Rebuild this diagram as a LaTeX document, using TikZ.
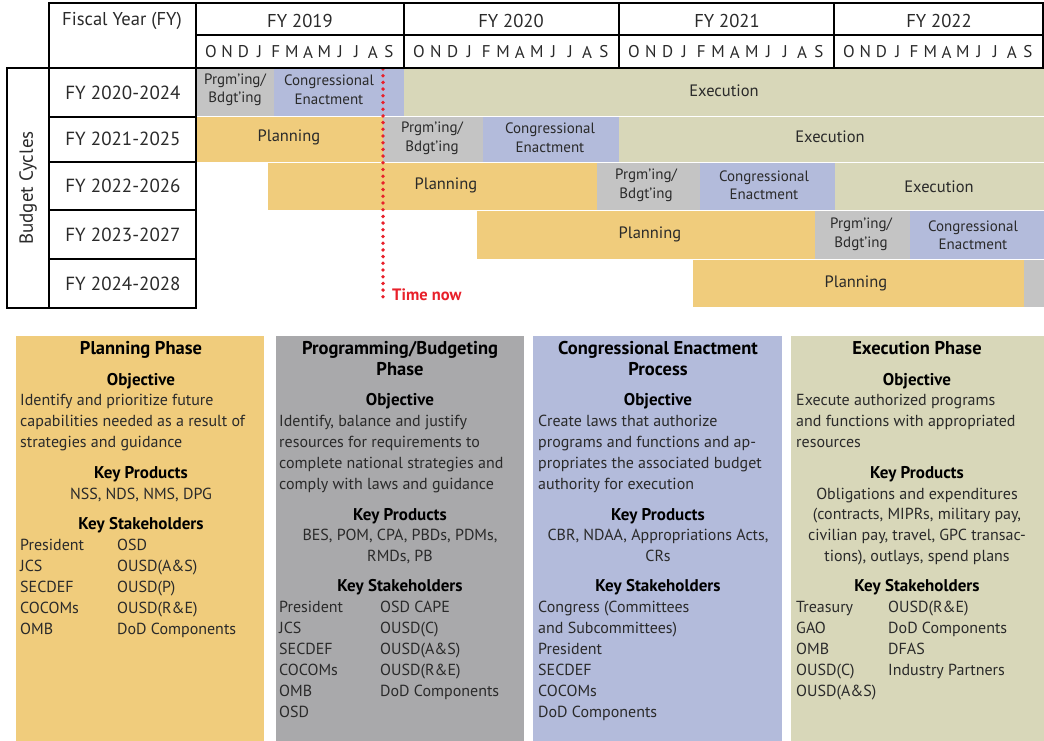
\documentclass[tikz,border=0pt]{standalone}
\usepackage{fontspec}
\setmainfont{PT Sans}
\definecolor{plan}{HTML}{F0CC7C}
\definecolor{progbar}{HTML}{C4C4C4}
\definecolor{progbox}{HTML}{A9A9AB}
\definecolor{cong}{HTML}{B3BBDB}
\definecolor{exec}{HTML}{D8D7B9}
\definecolor{tnow}{HTML}{E8202A}
\definecolor{ink}{HTML}{2A2A2A}
\newcounter{tl}
\newcommand{\tl}[4][base west]{\stepcounter{tl}\node[txt,anchor=#1] (t\arabic{tl}) at (#2,#3) {#4};}
\begin{document}
\begin{tikzpicture}[x=1pt,y=-1pt,
  frame/.style={line width=2.2pt,draw=black},
  hdr/.style={font=\fontsize{18.6}{20}\selectfont,text=ink,inner sep=0pt},
  rowl/.style={font=\fontsize{19}{20}\selectfont,text=ink,inner sep=0pt},
  mon/.style={font=\fontsize{17}{18}\selectfont,text=ink,inner sep=0pt},
  barlbl/.style={font=\fontsize{15}{18.5}\selectfont,text=ink,align=center,inner sep=0pt},
  barbig/.style={font=\fontsize{16.5}{18}\selectfont,text=ink,inner sep=0pt},
  txt/.style={font=\fontsize{16}{21}\selectfont,text=ink,inner sep=0pt},
  hd/.style={font=\fontsize{17}{21}\bfseries\selectfont,text=black,inner sep=0pt,anchor=base},
  ttl/.style={font=\fontsize{18.5}{21}\bfseries\selectfont,text=black,inner sep=0pt,anchor=base}]
\useasboundingbox (0,0) rectangle (1044,741);
% ---------- bars ----------
% row 1
\fill[progbar] (196,68) rectangle (274,116);
\fill[cong] (274,68) rectangle (404,116);
\fill[exec] (404,68) rectangle (1044,116);
% row 2
\fill[plan] (196,117) rectangle (383,162);
\fill[progbar] (383,117) rectangle (483,162);
\fill[cong] (483,117) rectangle (619,162);
\fill[exec] (619,117) rectangle (1044,162);
% row 3
\fill[plan] (268,163) rectangle (597,210);
\fill[progbar] (597,163) rectangle (700,210);
\fill[cong] (700,163) rectangle (835,210);
\fill[exec] (835,163) rectangle (1044,210);
% row 4
\fill[plan] (477,211) rectangle (815,259);
\fill[progbar] (815,211) rectangle (910,259);
\fill[cong] (910,211) rectangle (1044,259);
% row 5
\fill[plan] (693,260) rectangle (1024,307);
\fill[progbar] (1024,260) rectangle (1044,307);
% bar labels
\node[barlbl] (b1p) at (235,90) {Prgm’ing/\\Bdgt’ing};
\node[barlbl] (b1c) at (329,90) {Congressional\\Enactment};
\node[barbig] (b1e) at (724,91) {Execution};
\node[barbig] (b2l) at (289,137) {Planning};
\node[barlbl] (b2p) at (432,138) {Prgm’ing/\\Bdgt’ing};
\node[barlbl] (b2c) at (550,138) {Congressional\\Enactment};
\node[barbig] (b2e) at (830,137) {Execution};
\node[barbig] (b3l) at (446,185) {Planning};
\node[barlbl] (b3p) at (646,185) {Prgm’ing/\\Bdgt’ing};
\node[barlbl] (b3c) at (764,185) {Congressional\\Enactment};
\node[barbig] (b3e) at (939,187) {Execution};
\node[barbig] (b4l) at (650,234) {Planning};
\node[barlbl] (b4p) at (861,234) {Prgm’ing/\\Bdgt’ing};
\node[barlbl] (b4c) at (973,235) {Congressional\\Enactment};
\node[barbig] (b5l) at (856,283) {Planning};
% ---------- time now ----------
\coordinate (tn1) at (383,69);
\coordinate (tn2) at (383,303);
\draw[tnow,line width=3.8pt,line cap=round,dash pattern=on 0pt off 6.7pt] (tn1) -- (tn2);
\node[font=\fontsize{16.5}{18}\bfseries\selectfont,text=tnow,inner sep=0pt,anchor=west] (tnl) at (392,295) {Time now};
% ---------- header frame ----------
\draw[frame] (49,3) rectangle (1043,68);
\draw[frame] (196,35) -- (1043,35);
\foreach \xx in {196,404,619,834} \draw[frame] (\xx,3) -- (\xx,68);
\draw[frame] (7,68) rectangle (196,308);
\draw[frame] (49,68) -- (49,308);
\foreach \yy in {117,162,210,259} \draw[frame] (49,\yy) -- (196,\yy);
\node[hdr] (fy) at (122,21) {Fiscal Year (FY)};
\node[hdr] (fy19) at (300,21) {FY 2019};
\node[hdr] (fy20) at (511,21) {FY 2020};
\node[hdr] (fy21) at (727,21) {FY 2021};
\node[hdr] (fy22) at (939,21) {FY 2022};
\foreach \s/\e/\n in {196/404/a,404/619/b,619/834/c,834/1043/d}{
  \foreach \m [count=\i from 0] in {O,N,D,J,F,M,A,M,J,J,A,S}{
    \pgfmathsetmacro\cx{\s+15+\i*(\e-\s-30)/11}
    \node[mon] (m\n\i) at (\cx,52) {\m};
  }}
\node[rowl] (r1) at (123,93) {FY 2020-2024};
\node[rowl] (r2) at (123,139) {FY 2021-2025};
\node[rowl] (r3) at (123,186) {FY 2022-2026};
\node[rowl] (r4) at (123,235) {FY 2023-2027};
\node[rowl] (r5) at (123,284) {FY 2024-2028};
\node[rowl,rotate=90] (bc) at (28,188) {Budget Cycles};
% ---------- bottom boxes ----------
\fill[plan] (16,336) rectangle (264,741);
\fill[progbox] (276,336) rectangle (524,741);
\fill[cong] (533,336) rectangle (782,741);
\fill[exec] (791,336) rectangle (1044,741);
% box 1
\node[ttl] (p1t) at (141,354) {Planning Phase};
\node[hd] (p1o) at (141,385) {Objective};
\tl{20}{405}{Identify and prioritize future}
\tl{20}{426}{capabilities needed as a result of}
\tl{20}{447}{strategies and guidance}
\node[hd] (p1k) at (141,478) {Key Products};
\tl[base]{141}{499}{NSS, NDS, NMS, DPG}
\node[hd] (p1s) at (141,529) {Key Stakeholders};
\foreach \a/\b [count=\j from 0] in {President/OSD,JCS/OUSD(A\&S),SECDEF/OUSD(P),COCOMs/OUSD(R\&E),OMB/DoD Components}{
  \pgfmathsetmacro\yy{550+21*\j}
  \node[txt,anchor=base west] (s1a\j) at (20,\yy) {\a};
  \node[txt,anchor=base west] (s1b\j) at (117,\yy) {\b};
}
% box 2
\node[ttl] (p2t) at (400,354) {Programming/Budgeting};
\node[ttl] (p2t2) at (400,375) {Phase};
\node[hd] (p2o) at (400,405) {Objective};
\tl{279}{426}{Identify, balance and justify}
\tl{279}{447}{resources for requirements to}
\tl{279}{468}{complete national strategies and}
\tl{279}{489}{comply with laws and guidance}
\node[hd] (p2k) at (400,520) {Key Products};
\tl[base]{400}{540}{BES, POM, CPA, PBDs, PDMs,}
\tl[base]{400}{561}{RMDs, PB}
\node[hd] (p2s) at (400,591) {Key Stakeholders};
\foreach \a/\b [count=\j from 0] in {President/OSD CAPE,JCS/OUSD(C),SECDEF/OUSD(A\&S),COCOMs/OUSD(R\&E),OMB/DoD Components,OSD/}{
  \pgfmathsetmacro\yy{612+21*\j}
  \node[txt,anchor=base west] (s2a\j) at (279,\yy) {\a};
  \node[txt,anchor=base west] (s2b\j) at (380,\yy) {\b};
}
% box 3
\node[ttl] (p3t) at (658,354) {Congressional Enactment};
\node[ttl] (p3t2) at (658,375) {Process};
\node[hd] (p3o) at (658,405) {Objective};
\tl{538}{426}{Create laws that authorize}
\tl{538}{447}{programs and functions and ap-}
\tl{538}{468}{propriates the associated budget}
\tl{538}{489}{authority for execution}
\node[hd] (p3k) at (658,520) {Key Products};
\tl[base]{658}{540}{CBR, NDAA, Appropriations Acts,}
\tl[base]{658}{561}{CRs}
\node[hd] (p3s) at (658,591) {Key Stakeholders};
\foreach \a [count=\j from 0] in {Congress (Committees,and Subcommittees),President,SECDEF,COCOMs,DoD Components}{
  \pgfmathsetmacro\yy{612+21*\j}
  \node[txt,anchor=base west] (s3a\j) at (538,\yy) {\a};
}
% box 4
\node[ttl] (p4t) at (917,354) {Execution Phase};
\node[hd] (p4o) at (917,385) {Objective};
\tl{796}{405}{Execute authorized programs}
\tl{796}{426}{and functions with appropriated}
\tl{796}{447}{resources}
\node[hd] (p4k) at (917,478) {Key Products};
\tl[base]{917}{499}{Obligations and expenditures}
\tl[base]{917}{519}{(contracts, MIPRs, military pay,}
\tl[base]{917}{540}{civilian pay, travel, GPC transac-}
\tl[base]{917}{561}{tions), outlays, spend plans}
\node[hd] (p4s) at (917,591) {Key Stakeholders};
\foreach \a/\b [count=\j from 0] in {Treasury/OUSD(R\&E),GAO/DoD Components,OMB/DFAS,OUSD(C)/Industry Partners,OUSD(A\&S)/}{
  \pgfmathsetmacro\yy{612+21*\j}
  \node[txt,anchor=base west] (s4a\j) at (796,\yy) {\a};
  \node[txt,anchor=base west] (s4b\j) at (888,\yy) {\b};
}
\end{tikzpicture}
\end{document}
